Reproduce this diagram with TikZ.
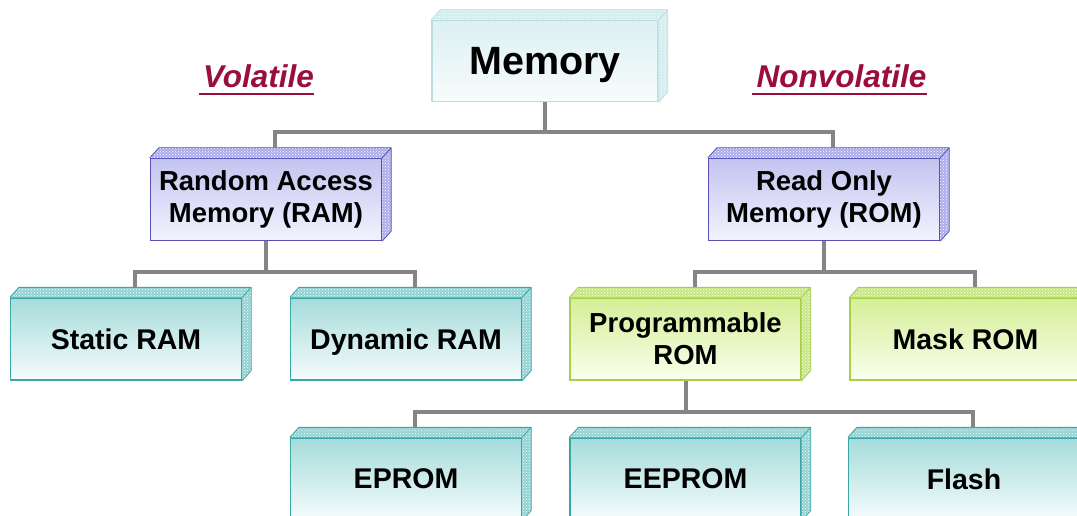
\documentclass[tikz,border=0pt]{standalone}
\usepackage{fontspec}
\setmainfont{Liberation Sans}
\usetikzlibrary{calc,patterns}
\definecolor{maroon}{HTML}{9A0D3C}
\definecolor{conncol}{HTML}{858585}
\definecolor{cyT}{HTML}{A6DBDB}\definecolor{cyB}{HTML}{F5FCFC}\definecolor{cyD}{HTML}{3AA6A6}\definecolor{cyF}{HTML}{92D2D2}
\definecolor{laT}{HTML}{C3C3F0}\definecolor{laB}{HTML}{F3F3FF}\definecolor{laD}{HTML}{5A4FB5}\definecolor{laF}{HTML}{ADADEA}
\definecolor{grT}{HTML}{D4EE96}\definecolor{grB}{HTML}{FAFFEE}\definecolor{grD}{HTML}{A6CF4A}\definecolor{grF}{HTML}{C6E682}
\definecolor{meT}{HTML}{DDF0F2}\definecolor{meB}{HTML}{F7FCFC}\definecolor{meD}{HTML}{BADDE2}\definecolor{meF}{HTML}{D3ECEF}
\newcommand\boxfaces[3]{%
  \fill[#2] (#1.north west) -- ++(9,-10) -- ($(#1.north east)+(9,-10)$) -- (#1.north east) -- cycle;
  \fill[#2] (#1.north east) -- ++(9,-10) -- ($(#1.south east)+(9,-10)$) -- (#1.south east) -- cycle;
  \fill[pattern=crosshatch dots, pattern color=white] (#1.north west) -- ++(9,-10) -- ($(#1.north east)+(9,-10)$) -- (#1.north east) -- cycle;
  \fill[pattern=crosshatch dots, pattern color=white] (#1.north east) -- ++(9,-10) -- ($(#1.south east)+(9,-10)$) -- (#1.south east) -- cycle;
  \draw[#3, line width=0.8pt, line join=round] (#1.north west) -- ++(9,-10) -- ($(#1.north east)+(9,-10)$) -- ($(#1.south east)+(9,-10)$) -- (#1.south east);
  \draw[#3, line width=0.8pt] (#1.north east) -- ++(9,-10);
}
\begin{document}
\begin{tikzpicture}[x=1pt,y=-1pt,
  bx/.style={draw, line width=1.3pt, minimum width=231pt, minimum height=82pt, inner sep=0pt, align=center,
    font=\fontsize{27.5}{32}\selectfont\bfseries},
  one/.style={text depth=0pt, font=\fontsize{28.5}{32}\selectfont\bfseries},
  cyanbox/.style={bx, draw=cyD, top color=cyT, bottom color=cyB},
  lavbox/.style={bx, draw=laD, top color=laT, bottom color=laB},
  grbox/.style={bx, draw=grD, top color=grT, bottom color=grB},
  membox/.style={bx, draw=meD, top color=meT, bottom color=meB, minimum width=226pt, minimum height=81pt,
    text depth=0pt, font=\fontsize{39.5}{44}\selectfont\bfseries},
  conn/.style={draw=conncol, line width=4pt},
  lab/.style={text=maroon, inner sep=0pt, font=\fontsize{31.5}{34}\selectfont\bfseries\itshape},
  uline/.style={draw=maroon, line width=2pt}]
\useasboundingbox (0,0) rectangle (1077,516);
\clip (0,0) rectangle (1077,516);
\fill[white] (0,0) rectangle (1077,516);

% nodes
\node[membox] (mem) at (545,61) {Memory};
\node[lavbox] (ram) at (266,199.5) {Random Access\\Memory (RAM)};
\node[lavbox] (rom) at (824,199.5) {Read Only\\Memory (ROM)};
\node[cyanbox, one] (sram) at (126,339) {Static RAM};
\node[cyanbox, one] (dram) at (406,339) {Dynamic RAM};
\node[grbox] (prom) at (685.5,339) {Programmable\\ROM};
\node[grbox, one] (mrom) at (965.5,339) {Mask ROM};
\node[cyanbox, one] (eprom) at (406,479) {EPROM};
\node[cyanbox, one] (eeprom) at (685.5,479) {EEPROM};
\node[cyanbox, one] (flash) at (964,479) {Flash};

\boxfaces{mem}{meF}{meD}
\boxfaces{ram}{laF}{laD}
\boxfaces{rom}{laF}{laD}
\boxfaces{sram}{cyF}{cyD}
\boxfaces{dram}{cyF}{cyD}
\boxfaces{prom}{grF}{grD}
\boxfaces{mrom}{grF}{grD}
\boxfaces{eprom}{cyF}{cyD}
\boxfaces{eeprom}{cyF}{cyD}
\boxfaces{flash}{cyF}{cyD}

% connectors
\coordinate (b1) at (545,132);
\coordinate (b2) at (265,272);
\coordinate (b3) at (823,272);
\coordinate (b4) at (687,412);
\draw[conn] (mem.south) -- (mem.south |- b1);
\draw[conn] ($(ram.north)+(9,-10)$) |- (b1) -| ($(rom.north)+(9,-10)$);
\draw[conn] (ram.south) -- (ram.south |- b2);
\draw[conn] ($(sram.north)+(9,-10)$) |- (b2) -| ($(dram.north)+(9,-10)$);
\draw[conn] (rom.south) -- (rom.south |- b3);
\draw[conn] ($(prom.north)+(9,-10)$) |- (b3) -| ($(mrom.north)+(9,-10)$);
\draw[conn] (prom.south) -- (prom.south |- b4);
\draw[conn] ($(eprom.north)+(9,-10)$) |- (b4) -| ($(flash.north)+(9,-10)$);
\draw[conn] ($(eeprom.north)+(9,-10)$) -- ($(eeprom.north)+(9,-10)$ |- b4);

% labels
\node[lab, anchor=base] (vol) at (258.5,88) {Volatile};
\node[lab, anchor=base] (nvol) at (841.5,88) {Nonvolatile};
\draw[uline] ([shift={(-4,6)}]vol.base west) -- ([shift={(0,6)}]vol.base east);
\draw[uline] ([shift={(-4,6)}]nvol.base west) -- ([shift={(0,6)}]nvol.base east);
\end{tikzpicture}
\end{document}
